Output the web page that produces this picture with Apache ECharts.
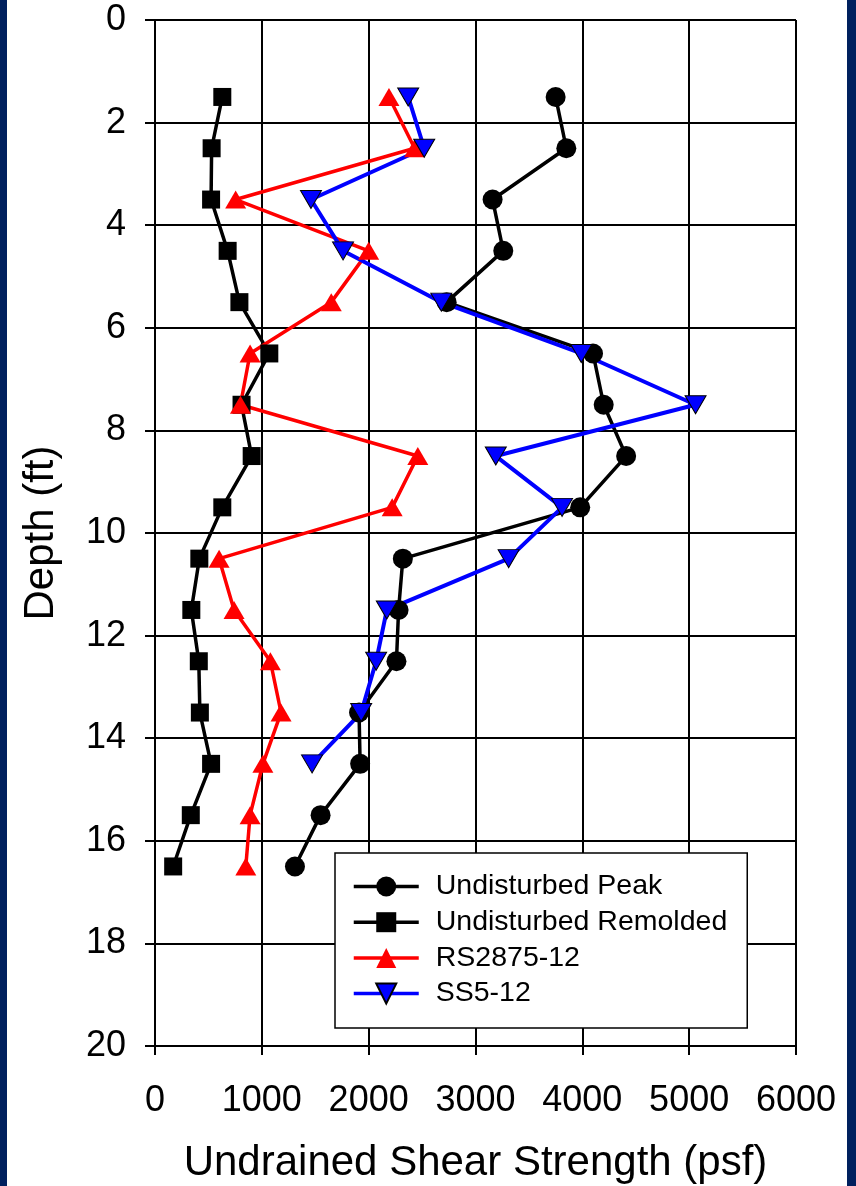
<!DOCTYPE html>
<html>
<head>
<meta charset="utf-8">
<script src="https://cdn.jsdelivr.net/npm/echarts@6/dist/echarts.min.js"></script>
<style>
  html, body { margin: 0; padding: 0; background: #ffffff; }
  #chart { width: 856px; height: 1186px; }
</style>
</head>
<body>
<div id="chart"></div>
<script>
// Sample depths (ft) and undrained shear strength (psf) for each test series
const depths = [1.5, 2.5, 3.5, 4.5, 5.5, 6.5, 7.5, 8.5, 9.5, 10.5, 11.5, 12.5, 13.5, 14.5, 15.5, 16.5];
const undisturbedPeak = [3750, 3850, 3160, 3260, 2730, 4100, 4200, 4410, 3980, 2320, 2280, 2260, 1910, 1920, 1550, 1310];
const undisturbedRemolded = [630, 530, 525, 680, 790, 1070, 810, 905, 630, 415, 340, 410, 420, 525, 335, 170];
const rs2875 = [2190, 2430, 755, 2000, 1650, 890, 800, 2460, 2220, 600, 740, 1080, 1180, 1010, 890, 850];
const ss512 = [2370, 2520, 1460, 1760, 2680, 3990, 5060, 3190, 3810, 3310, 2170, 2070, 1930, 1470];
const seriesNames = ['Undisturbed Peak', 'Undisturbed Remolded', 'RS2875-12', 'SS5-12'];

const pairs = (vals) => vals.map((v, i) => [v, depths[i]]);

const FONT = 'Liberation Sans, Arial, sans-serif';
const chart = echarts.init(document.getElementById('chart'), null, { renderer: 'canvas' });

chart.setOption({
  animation: false,
  backgroundColor: '#ffffff',
  textStyle: { fontFamily: FONT, color: '#000' },
  graphic: [
    { type: 'rect', left: 0, top: 0, shape: { width: 7, height: 1186 }, style: { fill: '#00205e' }, silent: true },
    { type: 'rect', left: 847, top: 0, shape: { width: 9, height: 1186 }, style: { fill: '#00205e' }, silent: true }
  ],
  grid: { left: 155, top: 20, width: 641, height: 1026, containLabel: false, outerBoundsMode: 'none' },
  xAxis: {
    type: 'value', min: 0, max: 6000, interval: 1000, position: 'bottom',
    name: 'Undrained Shear Strength (psf)', nameLocation: 'middle', nameGap: 96,
    nameTextStyle: { fontSize: 42, color: '#000', fontFamily: FONT },
    axisLine: { show: true, onZero: false, lineStyle: { color: '#000', width: 2 } },
    axisTick: { show: true, inside: false, length: 9, lineStyle: { color: '#000', width: 2 } },
    axisLabel: { fontSize: 36, color: '#000', margin: 37, fontFamily: FONT, formatter: (v) => String(v) },
    splitLine: { show: true, lineStyle: { color: '#000', width: 2 } }
  },
  yAxis: {
    type: 'value', min: 0, max: 20, interval: 2, inverse: true,
    name: 'Depth (ft)', nameLocation: 'middle', nameGap: 93, nameRotate: 90,
    nameTextStyle: { fontSize: 42, color: '#000', fontFamily: FONT },
    axisLine: { show: true, onZero: false, lineStyle: { color: '#000', width: 2 } },
    axisTick: { show: true, inside: false, length: 10, lineStyle: { color: '#000', width: 2 } },
    axisLabel: { fontSize: 36, color: '#000', margin: 29, fontFamily: FONT, formatter: (v) => String(v) },
    splitLine: { show: true, lineStyle: { color: '#000', width: 2 } }
  },
  legend: {
    orient: 'vertical', left: 335, top: 853,
    data: seriesNames,
    backgroundColor: '#ffffff', borderColor: '#000', borderWidth: 1.5,
    padding: [19, 20, 20, 17],
    itemWidth: 65, itemHeight: 25, itemGap: 6.7,
    lineStyle: { width: 3.5 },
    textStyle: { fontSize: 28.5, color: '#000', fontFamily: FONT, lineHeight: 25, padding: [0, 0, 0, 12] }
  },
  series: [
    {
      name: seriesNames[0], type: 'line', data: pairs(undisturbedPeak),
      symbol: 'circle', symbolSize: 20,
      lineStyle: { color: '#000', width: 3.5 },
      itemStyle: { color: '#000' }
    },
    {
      name: seriesNames[1], type: 'line', data: pairs(undisturbedRemolded),
      symbol: 'rect', symbolSize: 18,
      lineStyle: { color: '#000', width: 3.5 },
      itemStyle: { color: '#000' }
    },
    {
      name: seriesNames[2], type: 'line', data: pairs(rs2875),
      symbol: 'triangle', symbolSize: [21, 18],
      lineStyle: { color: '#ff0000', width: 3.5 },
      itemStyle: { color: '#ff0000' }
    },
    {
      name: seriesNames[3], type: 'line', data: pairs(ss512),
      symbol: 'triangle', symbolSize: [21, 18], symbolRotate: 180,
      lineStyle: { color: '#0000ff', width: 4 },
      itemStyle: { color: '#0000ff', borderColor: '#000', borderWidth: 1 }
    }
  ]
});
</script>
</body>
</html>
